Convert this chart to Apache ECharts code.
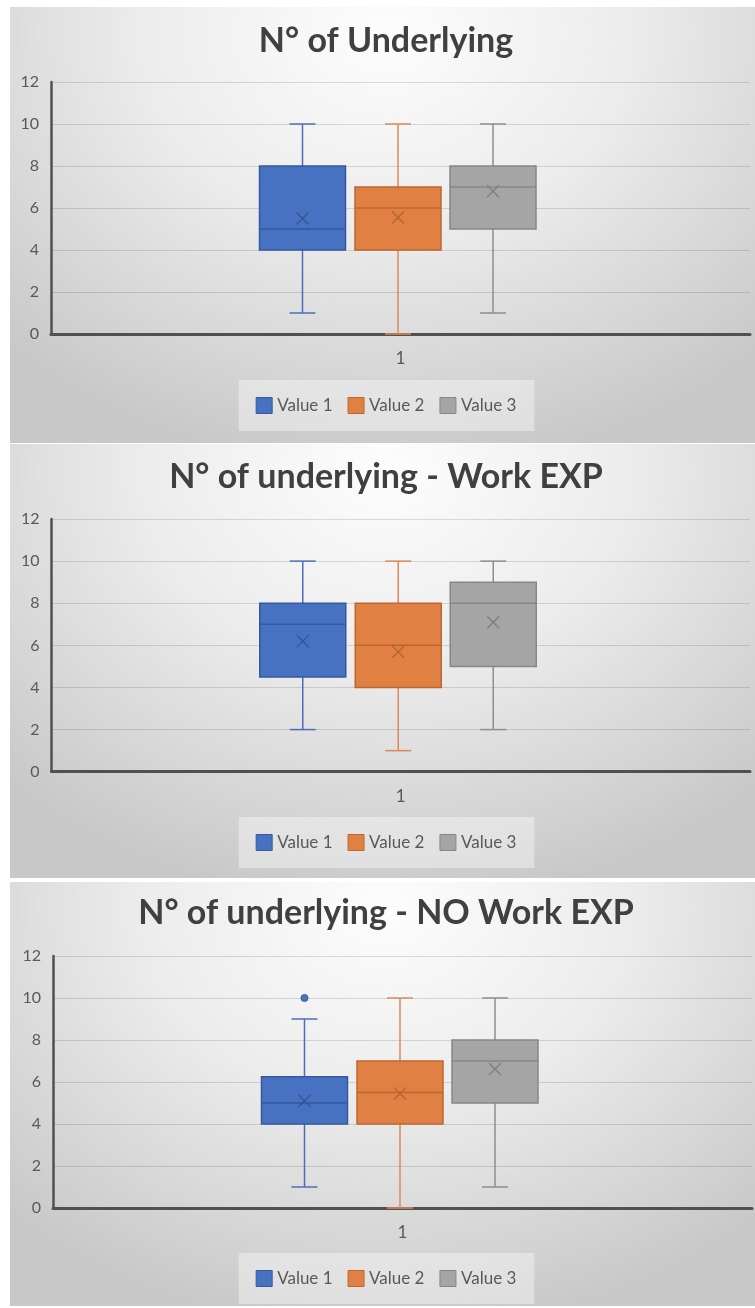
<!DOCTYPE html>
<html><head><meta charset="utf-8">
<script src="https://cdn.jsdelivr.net/npm/echarts@6/dist/echarts.min.js"></script>
<style>
html,body{margin:0;padding:0;background:#fff;width:755px;height:1308px;overflow:hidden;position:relative}
.p{position:absolute;left:10px;width:752px;background:radial-gradient(ellipse 72% 100% at 50% 6%, #fdfdfd 0%, #ececec 45%, #c8c8c8 100%)}
</style></head><body>
<div id="c1" class="p" style="top:7px;height:436px"></div>
<div id="c2" class="p" style="top:444px;height:434px"></div>
<div id="c3" class="p" style="top:882px;height:424px"></div>
<script>
// ---------- data ----------
const categories = ['1'];
const seriesNames = ['Value 1', 'Value 2', 'Value 3'];
const titles = ['N° of Underlying', 'N° of underlying - Work EXP', 'N° of underlying - NO Work EXP'];
const yMin = 0, yMax = 12, yInterval = 2;
// each: [min, Q1, median, Q3, max, mean]
const p1Value1 = [1, 4, 5, 8, 10, 5.5];
const p1Value2 = [0, 4, 6, 7, 10, 5.55];
const p1Value3 = [1, 5, 7, 8, 10, 6.8];
const p2Value1 = [2, 4.5, 7, 8, 10, 6.2];
const p2Value2 = [1, 4, 6, 8, 10, 5.7];
const p2Value3 = [2, 5, 8, 9, 10, 7.1];
const p3Value1 = [1, 4, 5, 6.25, 9, 5.1];
const p3Value2 = [0, 4, 5.5, 7, 10, 5.45];
const p3Value3 = [1, 5, 7, 8, 10, 6.62];
const p1Outliers = [[], [], []];
const p2Outliers = [[], [], []];
const p3Outliers = [[10], [], []];

// ---------- styles ----------
const STY = [
  {fill: '#4672c1', border: '#35599b', whisker: '#4a6fb6', mean: '#34538c'},
  {fill: '#e18043', border: '#bd6630', whisker: '#dc8a55', mean: '#b0652f'},
  {fill: '#a5a5a5', border: '#878787', whisker: '#8e8e8e', mean: '#7d7d7d'}
];
const SLOT_OFFSETS = [-98, -2.5, 92.5];
const BOX_W = 86, CAP_W = 26, MEAN_SIZE = 12;
const FONT = 'Lato';

function boxRender(slot) {
  const st = STY[slot];
  return function (params, api) {
    const c = api.value(0);
    const cx = api.coord([c, 0])[0] + SLOT_OFFSETS[slot];
    const Y = i => api.coord([c, api.value(i)])[1];
    const yLo = Y(1), q1 = Y(2), med = Y(3), q3 = Y(4), yHi = Y(5), mean = Y(6);
    const hw = BOX_W / 2, cw = CAP_W / 2, m = MEAN_SIZE / 2;
    const ws = {stroke: st.whisker, lineWidth: 1.5};
    return {type: 'group', children: [
      {type: 'line', shape: {x1: cx, y1: yHi, x2: cx, y2: q3}, style: ws},
      {type: 'line', shape: {x1: cx, y1: q1, x2: cx, y2: yLo}, style: ws},
      {type: 'line', shape: {x1: cx - cw, y1: yHi, x2: cx + cw, y2: yHi}, style: ws},
      {type: 'line', shape: {x1: cx - cw, y1: yLo, x2: cx + cw, y2: yLo}, style: ws},
      {type: 'rect', shape: {x: cx - hw, y: q3, width: BOX_W, height: q1 - q3}, style: {fill: st.fill, stroke: st.border, lineWidth: 1.5}},
      {type: 'line', shape: {x1: cx - hw, y1: med, x2: cx + hw, y2: med}, style: {stroke: st.border, lineWidth: 1.5}},
      {type: 'line', shape: {x1: cx - m, y1: mean - m, x2: cx + m, y2: mean + m}, style: {stroke: st.mean, lineWidth: 1.3}},
      {type: 'line', shape: {x1: cx - m, y1: mean + m, x2: cx + m, y2: mean - m}, style: {stroke: st.mean, lineWidth: 1.3}}
    ]};
  };
}
function outlierRender(slot) {
  const st = STY[slot];
  return function (params, api) {
    const p = api.coord([api.value(0), api.value(1)]);
    return {type: 'circle', shape: {cx: p[0] + SLOT_OFFSETS[slot], cy: p[1], r: 3.6}, style: {fill: st.fill, stroke: st.border, lineWidth: 0.8}};
  };
}

function build(title, stats, outliers, L) {
  const series = [];
  stats.forEach((s, i) => {
    series.push({
      type: 'custom', name: seriesNames[i], renderItem: boxRender(i),
      itemStyle: {color: STY[i].fill},
      encode: {x: 0, y: [1, 2, 3, 4, 5]},
      data: [[0].concat(s)], z: 3
    });
    if (outliers[i].length) {
      series.push({
        type: 'custom', name: seriesNames[i], renderItem: outlierRender(i),
        itemStyle: {color: STY[i].fill}, encode: {x: 0, y: 1},
        data: outliers[i].map(v => [0, v]), z: 4
      });
    }
  });
  return {
    animation: false,
    title: {text: title, left: 'center', top: L.titleTop, padding: 0,
      textStyle: {fontFamily: FONT, fontWeight: 'bold', fontSize: 34, color: '#404040', lineHeight: 34}},
    legend: {
      left: 'center', top: L.legendTop, icon: 'rect', itemWidth: 16, itemHeight: 16, itemGap: 15,
      padding: [17, 18, 17, 17], backgroundColor: 'rgba(255,255,255,0.38)',
      textStyle: {fontFamily: FONT, fontSize: 17, color: '#595959'},
      data: seriesNames.map((n, i) => ({name: n, itemStyle: {color: STY[i].fill, borderColor: STY[i].border, borderWidth: 1}}))
    },
    grid: {left: L.left, right: L.right, top: L.top, bottom: L.bottom},
    xAxis: {type: 'category', data: categories,
      axisLine: {lineStyle: {color: '#505050', width: 3}}, axisTick: {show: false},
      axisLabel: {fontFamily: FONT, fontSize: 17, color: '#595959', margin: 16}},
    yAxis: {type: 'value', min: yMin, max: yMax, interval: yInterval,
      axisLine: {show: true, lineStyle: {color: '#505050', width: 2.5}}, axisTick: {show: false},
      splitLine: {lineStyle: {color: 'rgba(0,0,0,0.13)', width: 1}},
      axisLabel: {fontFamily: FONT, fontSize: 16, color: '#595959', margin: 12}},
    series: series
  };
}

const layouts = [
  {titleTop: 17.5, legendTop: 373, left: 41, right: 12, top: 75, bottom: 109},
  {titleTop: 16, legendTop: 373, left: 41.5, right: 12, top: 75, bottom: 106.3},
  {titleTop: 14, legendTop: 371, left: 43, right: 10, top: 74, bottom: 98}
];
const panels = [
  [titles[0], [p1Value1, p1Value2, p1Value3], p1Outliers],
  [titles[1], [p2Value1, p2Value2, p2Value3], p2Outliers],
  [titles[2], [p3Value1, p3Value2, p3Value3], p3Outliers]
];
['c1', 'c2', 'c3'].forEach((id, k) => {
  const ch = echarts.init(document.getElementById(id), null, {renderer: 'canvas'});
  ch.setOption(build(panels[k][0], panels[k][1], panels[k][2], layouts[k]));
});
</script>
</body></html>
